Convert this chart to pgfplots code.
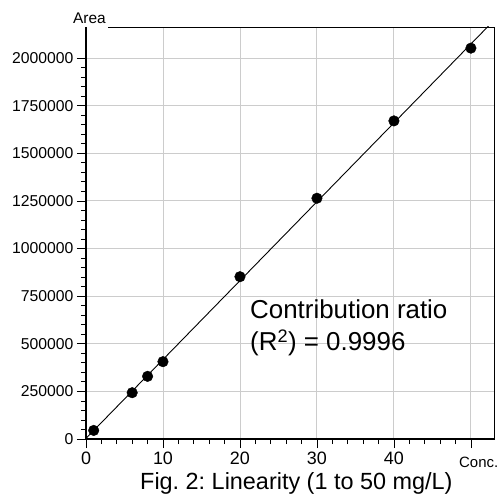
\documentclass[border=0pt]{standalone}
\usepackage{pgfplots}
\pgfplotsset{compat=1.18}
\usepackage{fontspec}
\setmainfont{Liberation Sans}
\usetikzlibrary{calc}
\definecolor{gridgray}{RGB}{204,204,204}
\frenchspacing
\begin{document}
\begin{tikzpicture}
\begin{axis}[
name=ax, at={(0,0)}, anchor=south west,
scale only axis, width=408bp, height=412bp,
xmin=0, xmax=53, ymin=0, ymax=2163000,
xtick={0,10,20,30,40,50}, xticklabels={0,10,20,30,40,{}},
ytick={0,250000,500000,750000,1000000,1250000,1500000,1750000,2000000},
minor x tick num=4, minor y tick num=4,
tick align=outside, tick pos=left,
major tick length=9bp, minor tick length=5bp,
grid=major, major grid style={gridgray, line width=0.9bp},
axis line style={black, line width=0.8bp},
every tick/.style={black, line width=0.8bp},
scaled y ticks=false,
xticklabel style={font=\fontsize{18}{18}\selectfont},
yticklabel style={font=\fontsize{15.8}{16}\selectfont, /pgf/number format/.cd, fixed, 1000 sep={}},
/pgf/number format/assume math mode=true,
]
% regression line
\addplot[black, line width=0.9bp] table {
0 3170
52.3 2169000
};
% measured points
\addplot[only marks, mark=*, mark size=5.3bp, black] table {
1 45000
6 243000
8 329000
10 406000
20 852000
30 1264000
40 1670000
50 2052000
};
\node[anchor=base west, font=\fontsize{26}{26}\selectfont, inner sep=0pt] at ($(rel axis cs:0,0)+(164bp,120bp)$) {Contribution ratio};
\node[anchor=base west, font=\fontsize{26}{26}\selectfont, inner sep=0pt] at ($(rel axis cs:0,0)+(164bp,88bp)$) {(R\textsuperscript{2}) = 0.9996};
\end{axis}
\draw[line width=2.2bp] (ax.south west) -- (ax.north west);
\draw[line width=2.2bp] (ax.south west) -- (ax.south east);
\fill[white] ($(ax.north west)+(1.2bp,-1.5bp)$) rectangle +(20.5bp,3bp);
\node[anchor=base west, font=\fontsize{15.5}{16}\selectfont, inner sep=0pt] at ($(ax.south west)+(-13bp,415bp)$) {Area};
\node[anchor=base west, font=\fontsize{15}{15}\selectfont, inner sep=0pt] at ($(ax.south west)+(373bp,-28bp)$) {Conc.};
\node[anchor=base west, font=\fontsize{23.5}{24}\selectfont, inner sep=0pt] at ($(ax.south west)+(54bp,-50bp)$) {Fig. 2: Linearity (1 to 50 mg/L)};
\pgfresetboundingbox
\path[use as bounding box] ($(ax.south west)+(-86bp,-56bp)$) rectangle ($(ax.south west)+(414bp,439bp)$);
\end{tikzpicture}
\end{document}
